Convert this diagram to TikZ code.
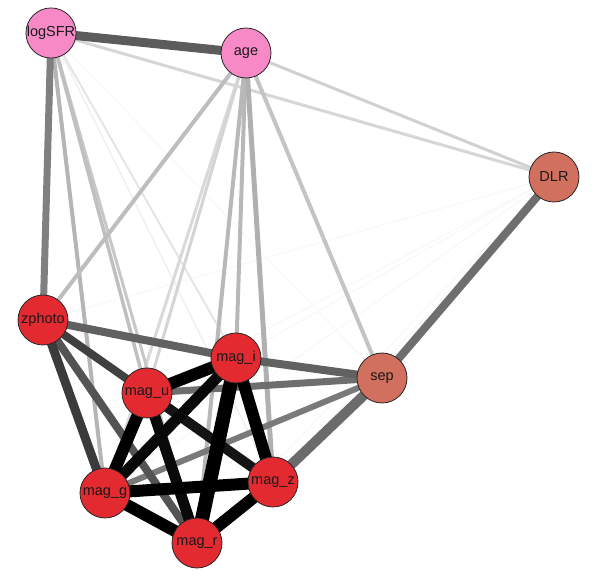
\documentclass[tikz,border=0pt]{standalone}
\usepackage{fontspec}
\setmainfont{Liberation Sans}
\pgfdeclarelayer{bg}
\pgfsetlayers{bg,main}
\definecolor{pinkn}{HTML}{F78AC6}
\definecolor{redn}{HTML}{E32A30}
\definecolor{salmn}{HTML}{D1705E}
\tikzset{
  vnode/.style={circle, minimum size=50pt, inner sep=0pt, draw=black!85, line width=0.8pt,
    font=\fontsize{14.5}{16}\selectfont, text=black!90},
}
\begin{document}
\begin{tikzpicture}[x=1pt,y=-1pt]
\useasboundingbox (0,0) rectangle (598,577);
\node[vnode, fill=pinkn] (logSFR) at (51,33) {logSFR};
\node[vnode, fill=pinkn] (age) at (246,53) {age};
\node[vnode, fill=salmn] (DLR) at (554,177) {DLR};
\node[vnode, fill=redn] (zphoto) at (43,320) {zphoto};
\node[vnode, fill=redn] (magi) at (236,358) {mag\_i};
\node[vnode, fill=salmn] (sep) at (382,378) {sep};
\node[vnode, fill=redn] (magu) at (147,393) {mag\_u};
\node[vnode, fill=redn] (magg) at (105,493) {mag\_g};
\node[vnode, fill=redn] (magz) at (273,482) {mag\_z};
\node[vnode, fill=redn] (magr) at (197,543) {mag\_r};
\begin{pgfonlayer}{bg}
\foreach \a/\b/\c/\w in {
  DLR/zphoto/black!3/1, DLR/magu/black!3/1, DLR/magg/black!3/1, DLR/magr/black!3/1,
  DLR/magz/black!3/1, DLR/magi/black!3/1,
  logSFR/sep/black!3/1, logSFR/magz/black!6/1.5, logSFR/magi/black!10/2,
  age/magg/black!15/3, age/magu/black!17/3,
  logSFR/DLR/black!16/3, age/DLR/black!18/3,
  logSFR/magr/black!22/3, logSFR/magu/black!25/3.5, logSFR/magg/black!29/4,
  age/zphoto/black!26/4, age/magi/black!28/4, age/magr/black!28/4,
  age/magz/black!31/5, age/sep/black!23/4,
  logSFR/zphoto/black!50/7, logSFR/age/black!64/9,
  DLR/sep/black!57/8,
  sep/magg/black!52/6, sep/magu/black!57/7,
  sep/magz/black!58/10, sep/magi/black!62/8,
  zphoto/magz/black!60/4, zphoto/magi/black!62/8, zphoto/magr/black!67/8,
  zphoto/magu/black!75/8, zphoto/magg/black!77/9,
  magu/magz/black!92/10, magu/magr/black!96/11, magi/magg/black!97/11,
  magu/magi/black/12, magu/magg/black/12, magg/magz/black/12,
  magg/magr/black/12, magr/magz/black/12, magi/magz/black/12, magi/magr/black/14}
{\draw[line width=\w pt, draw=\c] (\a.center) -- (\b.center);}
\end{pgfonlayer}
\end{tikzpicture}
\end{document}
